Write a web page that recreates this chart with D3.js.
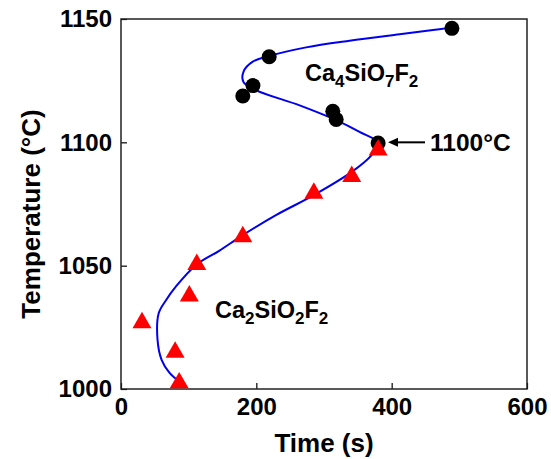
<!DOCTYPE html>
<html>
<head>
<meta charset="utf-8">
<script src="https://cdn.jsdelivr.net/npm/d3@7"></script>
<style>
body { margin: 0; background: #fff; }
text { font-family: "Liberation Sans", Arial, sans-serif; font-weight: bold; }
</style>
</head>
<body>
<svg id="svgCanvas" width="551" height="459"></svg>
<script>
// Ca4SiO7F2 (circles)
var circleTime = [489, 219, 195, 180, 313, 318, 380];
var circleTemp = [1146.2, 1134.7, 1123, 1118.8, 1112.6, 1109.3, 1099.7];

// Ca2SiO2F2 (triangles)
var triTime = [380, 341, 285, 180, 112, 101, 31, 80, 86];
var triTemp = [1098, 1087.3, 1080.5, 1062.8, 1051.6, 1038.8, 1028, 1016, 1003.6];

// blue guide curve
var curveTime = [86, 71.5, 60, 54, 55.7, 66.5, 81, 111, 145, 180, 229, 285, 341, 370, 380,
                 352.5, 318, 264, 200, 181, 181, 194.7, 219, 273.6, 337.8, 411.7, 461, 488];
var curveTemp = [1003, 1006.6, 1011.8, 1019.9, 1030.7, 1036, 1041.5, 1050.3, 1056, 1062.4, 1070.5, 1078.6, 1088, 1094.7, 1099.7,
                 1104.2, 1109, 1115, 1121.1, 1124.5, 1128.6, 1132.7, 1135, 1138.5, 1141.2, 1143.8, 1145.5, 1146.5];

var xTicks = [0, 200, 400, 600];
var yTicks = [1000, 1050, 1100, 1150];

var padLeft = 121, padRight = 527, padTop = 19, padBottom = 389;

var canvas = d3.select("#svgCanvas");

var x = d3.scaleLinear().domain([0, 600]).range([padLeft, padRight]);
var y = d3.scaleLinear().domain([1000, 1150]).range([padBottom, padTop]);

// axes, ticks inward
canvas.append("g")
    .attr("transform", "translate(0," + padBottom + ")")
    .call(d3.axisBottom(x).tickValues(xTicks).tickFormat(d3.format("d"))
        .tickSizeInner(-6).tickSizeOuter(0).tickPadding(9));
canvas.append("g")
    .attr("transform", "translate(" + padLeft + ",0)")
    .call(d3.axisLeft(y).tickValues(yTicks).tickFormat(d3.format("d"))
        .tickSizeInner(-6).tickSizeOuter(0).tickPadding(9));

canvas.selectAll(".tick text").attr("font-size", 24).attr("fill", "#000")
    .style("font-family", "Liberation Sans, Arial, sans-serif").style("font-weight", "bold");
canvas.selectAll(".domain").remove();
canvas.selectAll(".tick line").attr("stroke", "#000").attr("stroke-width", 1.2);

// frame
canvas.append("rect")
    .attr("x", padLeft).attr("y", padTop)
    .attr("width", padRight - padLeft).attr("height", padBottom - padTop)
    .attr("fill", "none").attr("stroke", "#222").attr("stroke-width", 1.5);

// curve
var pts = curveTime.map(function(t, i) { return [t, curveTemp[i]]; });
canvas.append("path")
    .attr("d", d3.line().x(function(d) { return x(d[0]); }).y(function(d) { return y(d[1]); })
        .curve(d3.curveCatmullRom.alpha(0.5))(pts))
    .attr("fill", "none").attr("stroke", "#0000ee").attr("stroke-width", 2);

// circles
for (var i = 0; i < circleTime.length; i++) {
    canvas.append("circle")
        .attr("cx", x(circleTime[i])).attr("cy", y(circleTemp[i]))
        .attr("r", 7.5).attr("fill", "#000");
}

// triangles, box-centred on the point
var triSize = 156;
var tri = d3.symbol().type(d3.symbolTriangle).size(triSize);
var triShift = Math.sqrt(triSize / (Math.sqrt(3) * 3)) / 2;
for (var i = 0; i < triTime.length; i++) {
    canvas.append("path")
        .attr("d", tri())
        .attr("transform", "translate(" + x(triTime[i]) + "," + (y(triTemp[i]) + triShift) + ")")
        .attr("fill", "#ff0000");
}

// labels with subscripts
function formula(xp, yp, parts) {
    var t = canvas.append("text").attr("x", xp).attr("y", yp).attr("font-size", 23.5).attr("fill", "#000");
    var shift = 0;
    parts.forEach(function(p) {
        var dy = (p.sub ? 6 : 0) - shift;
        t.append("tspan").attr("font-size", p.sub ? 17 : 23.5).attr("dy", dy).text(p.s);
        shift = p.sub ? 6 : 0;
    });
}
formula(305, 81, [{s: "Ca"}, {s: "4", sub: 1}, {s: "SiO"}, {s: "7", sub: 1}, {s: "F"}, {s: "2", sub: 1}]);
formula(215, 318, [{s: "Ca"}, {s: "2", sub: 1}, {s: "SiO"}, {s: "2", sub: 1}, {s: "F"}, {s: "2", sub: 1}]);

canvas.append("text").attr("x", 430).attr("y", 151).attr("font-size", 24.5).attr("fill", "#000").text("1100°C");

// arrow
canvas.append("line")
    .attr("x1", 425).attr("y1", y(1100)).attr("x2", 395).attr("y2", y(1100))
    .attr("stroke", "#000").attr("stroke-width", 2);
canvas.append("path")
    .attr("d", "M388," + y(1100) + " L398," + (y(1100) - 4.5) + " L398," + (y(1100) + 4.5) + " Z")
    .attr("fill", "#000");

// axis titles
canvas.append("text").attr("x", (padLeft + padRight) / 2).attr("y", 452)
    .attr("text-anchor", "middle").attr("font-size", 26).attr("fill", "#000").text("Time (s)");
canvas.append("text")
    .attr("transform", "translate(40,214) rotate(-90)")
    .attr("text-anchor", "middle").attr("font-size", 26).attr("fill", "#000").text("Temperature (°C)");
</script>
</body>
</html>
